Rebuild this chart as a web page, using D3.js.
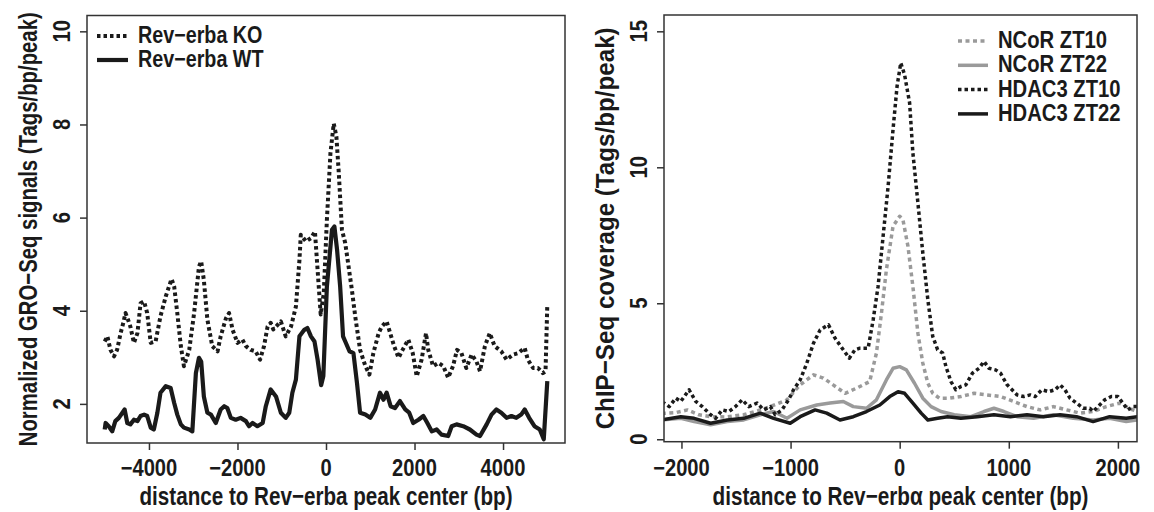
<!DOCTYPE html>
<html>
<head>
<meta charset="UTF-8" />
<title>GRO-Seq / ChIP-Seq profiles</title>
<script src="https://d3js.org/d3.v7.min.js"></script>
<style>
  body { margin: 0; background: #fff; }
  text { font-family: "Liberation Sans", Arial, sans-serif; font-weight: bold; fill: #1a1a1a; }
</style>
</head>
<body>
<div id="chart"></div>
<script>
// ---- left panel data: [bp, signal] ----
var koData = [
  [-5000,3.34],[-4940,3.45],[-4870,3.16],[-4790,3.02],[-4720,3.16],[-4640,3.52],[-4580,3.74],[-4530,3.95],
  [-4470,3.8],[-4420,3.66],[-4340,3.31],[-4260,3.52],[-4190,4.16],[-4110,4.2],[-4040,3.95],[-3960,3.31],
  [-3850,3.34],[-3740,3.88],[-3620,4.31],[-3490,4.68],[-3430,4.52],[-3360,3.95],[-3280,3.24],[-3210,2.81],
  [-3090,3.16],[-2980,3.95],[-2870,4.95],[-2820,5.06],[-2760,4.66],[-2680,3.81],[-2570,3.24],[-2450,3.13],
  [-2380,3.45],[-2260,3.84],[-2190,3.95],[-2110,3.59],[-2000,3.31],[-1890,3.38],[-1810,3.24],[-1700,3.16],
  [-1590,3.13],[-1490,2.95],[-1400,3.24],[-1320,3.66],[-1250,3.74],[-1190,3.6],[-1130,3.66],[-1020,3.77],
  [-910,3.45],[-790,3.66],[-680,4.09],[-600,5.09],[-570,5.63],[-450,5.49],[-340,5.56],[-250,5.7],
  [-190,4.88],[-120,3.92],[-50,4.38],[20,5.95],[100,7.38],[175,8.02],[235,7.74],[285,7.02],
  [360,5.74],[435,5.45],[510,4.95],[585,4.45],[660,3.88],[770,3.16],[890,2.81],[980,2.63],
  [1070,3.09],[1190,3.52],[1260,3.66],[1370,3.77],[1450,3.52],[1540,3.24],[1640,2.99],[1730,3.16],
  [1860,3.38],[1960,3.09],[2050,2.59],[2160,2.95],[2260,3.52],[2310,3.16],[2420,2.81],[2540,2.88],
  [2650,2.81],[2760,2.56],[2870,2.81],[2960,3.16],[3060,3.09],[3170,2.77],[3290,3.06],[3400,2.91],
  [3480,2.7],[3590,3.24],[3700,3.52],[3810,3.24],[3960,3.13],[4080,2.95],[4230,3.06],[4340,3.09],
  [4490,3.2],[4560,2.95],[4680,2.77],[4790,2.77],[4900,2.66],[4960,2.7],[5000,4.13]
];
var wtData = [
  [-5000,1.45],[-4980,1.59],[-4910,1.52],[-4830,1.41],[-4760,1.63],[-4680,1.7],[-4600,1.81],[-4550,1.88],
  [-4490,1.59],[-4420,1.56],[-4340,1.66],[-4260,1.63],[-4190,1.74],[-4110,1.77],[-4040,1.74],[-3960,1.49],
  [-3890,1.45],[-3810,1.81],[-3740,2.24],[-3620,2.38],[-3510,2.34],[-3430,2.02],[-3360,1.77],[-3280,1.56],
  [-3210,1.49],[-3090,1.45],[-3020,1.41],[-2940,2.66],[-2870,2.99],[-2820,2.91],[-2760,2.16],[-2680,1.81],
  [-2600,1.77],[-2490,1.59],[-2380,1.88],[-2300,1.95],[-2230,1.91],[-2150,1.7],[-2040,1.66],[-1930,1.7],
  [-1810,1.63],[-1740,1.52],[-1660,1.59],[-1550,1.52],[-1430,1.59],[-1360,1.95],[-1250,2.31],[-1130,2.16],
  [-1020,1.81],[-910,1.7],[-830,1.81],[-760,2.24],[-680,2.52],[-600,3.45],[-490,3.59],[-420,3.63],
  [-340,3.45],[-260,3.34],[-190,2.95],[-110,2.4],[-60,2.6],[20,4.52],[135,5.74],[190,5.81],
  [250,5.31],[320,4.52],[385,3.45],[435,3.34],[530,3.13],[620,3.09],[700,2.45],[770,1.81],
  [890,1.77],[1000,1.7],[1110,1.88],[1220,2.24],[1300,2.09],[1370,2.24],[1460,1.95],[1560,1.91],
  [1670,2.06],[1790,1.88],[1880,1.81],[1970,1.59],[2090,1.66],[2200,1.74],[2290,1.59],[2390,1.41],
  [2500,1.45],[2610,1.34],[2760,1.31],[2840,1.52],[2950,1.56],[3100,1.52],[3250,1.45],[3400,1.34],
  [3480,1.31],[3630,1.56],[3740,1.77],[3850,1.88],[3960,1.81],[4080,1.7],[4190,1.74],[4300,1.7],
  [4410,1.77],[4490,1.88],[4590,1.7],[4710,1.52],[4830,1.45],[4920,1.24],[5000,2.49]
];

// ---- right panel data: [bp, coverage] ----
var ncorZT10 = [
  [-2180,0.95],[-2050,0.98],[-1945,1.08],[-1840,0.9],[-1733,0.83],[-1600,0.82],[-1430,0.9],[-1300,1.05],
  [-1185,1.2],[-1033,1.45],[-912,2.0],[-790,2.37],[-700,2.25],[-610,2.0],[-500,1.69],[-395,1.88],
  [-275,2.12],[-213,3.17],[-167,4.64],[-122,6.23],[-61,7.83],[0,8.2],[30,8.07],[76,7.09],
  [121,5.62],[167,3.9],[212,2.8],[258,2.06],[303,1.69],[364,1.51],[455,1.51],[561,1.57],
  [682,1.69],[803,1.63],[924,1.57],[1045,1.39],[1167,1.2],[1288,1.08],[1409,1.2],[1530,1.08],
  [1652,0.96],[1773,1.02],[1894,1.2],[2015,1.33],[2136,1.08],[2182,1.02]
];
var ncorZT22 = [
  [-2180,0.71],[-2006,0.77],[-1884,0.65],[-1733,0.53],[-1580,0.65],[-1430,0.71],[-1277,0.9],[-1155,1.02],
  [-1033,0.77],[-912,1.08],[-760,1.26],[-638,1.33],[-517,1.39],[-425,1.2],[-304,1.14],[-213,1.45],
  [-122,2.18],[-61,2.61],[0,2.67],[61,2.55],[136,2.06],[212,1.51],[288,1.2],[379,1.02],
  [500,0.9],[652,0.83],[773,1.02],[864,1.14],[955,1.02],[1076,0.83],[1227,0.77],[1409,0.9],
  [1591,0.77],[1773,0.71],[1924,0.77],[2076,0.65],[2182,0.71]
];
var hdacZT10 = [
  [-2180,1.35],[-2158,1.33],[-2112,1.2],[-2052,1.51],[-2006,1.39],[-1930,1.82],[-1869,1.39],[-1809,1.2],
  [-1733,0.9],[-1687,0.77],[-1626,1.08],[-1565,1.02],[-1505,1.2],[-1444,1.45],[-1383,1.2],[-1307,1.33],
  [-1246,1.08],[-1185,1.2],[-1140,0.9],[-1079,1.08],[-1018,1.45],[-973,1.82],[-912,2.18],[-851,2.8],
  [-790,3.53],[-729,4.02],[-653,4.21],[-593,3.72],[-517,3.29],[-462,2.98],[-410,3.29],[-365,3.35],
  [-289,3.35],[-243,4.39],[-198,5.62],[-152,7.46],[-106,9.3],[-61,11.39],[-24,12.98],[10,13.84],
  [45,13.4],[91,12.37],[121,10.53],[167,8.69],[212,6.85],[258,5.13],[303,3.78],[348,3.29],
  [394,3.17],[424,2.67],[470,2.12],[515,1.82],[561,1.94],[606,2.0],[667,2.43],[727,2.61],
  [773,2.86],[818,2.61],[879,2.55],[924,2.43],[985,2.0],[1030,1.82],[1076,1.63],[1136,1.57],
  [1197,1.63],[1242,1.57],[1303,1.82],[1364,1.75],[1424,1.82],[1470,2.0],[1515,1.82],[1561,1.51],
  [1621,1.33],[1682,1.14],[1742,1.14],[1773,1.02],[1818,1.2],[1879,1.45],[1939,1.57],[2000,1.57],
  [2045,1.33],[2091,1.08],[2136,1.2],[2182,1.2]
];
var hdacZT22 = [
  [-2180,0.71],[-2006,0.83],[-1884,0.77],[-1733,0.59],[-1580,0.71],[-1430,0.77],[-1277,0.96],[-1155,0.77],
  [-1003,0.59],[-912,0.83],[-775,1.08],[-669,0.96],[-547,0.71],[-425,0.83],[-304,1.02],[-182,1.26],
  [-91,1.57],[-15,1.75],[15,1.72],[45,1.69],[121,1.33],[197,0.96],[258,0.71],[348,0.77],
  [439,0.83],[561,0.77],[712,0.83],[864,0.9],[1015,0.83],[1167,0.9],[1318,0.83],[1470,0.9],
  [1621,0.83],[1773,0.65],[1924,0.83],[2076,0.77],[2182,0.83]
];

// tick values
var leftXTicks = [-4000, -2000, 0, 2000, 4000];
var leftYTicks = [2, 4, 6, 8, 10];
var rightXTicks = [-2000, -1000, 0, 1000, 2000];
var rightYTicks = [0, 5, 10, 15];

var width = 1154, height = 512;
var ink = "#1a1a1a", grey = "#9a9a9a";

var svg = d3.select("#chart").append("svg")
  .attr("width", width).attr("height", height);

// text helper: horizontally condensed bold labels
function label(x, y, txt, size, sx, rot, len) {
  var g = svg.append("g")
    .attr("transform", "translate(" + x + "," + y + ") rotate(" + (rot || 0) + ") scale(" + sx + ",1)");
  var t = g.append("text").attr("text-anchor", "middle").attr("font-size", size).text(txt);
  if (len) t.attr("textLength", len / sx).attr("lengthAdjust", "spacingAndGlyphs");
  return t;
}
function fmt(v) { return v < 0 ? "\u2212" + Math.abs(v) : String(v); }

function panel(opt) {
  var x = d3.scaleLinear().domain(opt.xDomain).range([opt.left, opt.right]);
  var y = d3.scaleLinear().domain(opt.yDomain).range([opt.bottom, opt.top]);

  var clipId = "clip" + opt.id;
  svg.append("clipPath").attr("id", clipId).append("rect")
    .attr("x", opt.left).attr("y", opt.top)
    .attr("width", opt.right - opt.left).attr("height", opt.bottom - opt.top);

  var line = d3.line().x(d => x(d[0])).y(d => y(d[1]));
  var plot = svg.append("g").attr("clip-path", "url(#" + clipId + ")");
  opt.series.forEach(function (s) {
    plot.append("path").datum(s.data)
      .attr("d", line)
      .attr("fill", "none")
      .attr("stroke", s.color)
      .attr("stroke-width", s.width)
      .attr("stroke-linejoin", "round")
      .attr("stroke-dasharray", s.dash || null);
  });

  // box
  svg.append("rect")
    .attr("x", opt.left).attr("y", opt.top)
    .attr("width", opt.right - opt.left).attr("height", opt.bottom - opt.top)
    .attr("fill", "none").attr("stroke", "#333").attr("stroke-width", 1.5);

  // axes
  var xAxis = svg.append("g").attr("transform", "translate(0," + opt.bottom + ")")
    .call(d3.axisBottom(x).tickValues(opt.xTicks).tickSize(7).tickFormat(""));
  var yAxis = svg.append("g").attr("transform", "translate(" + opt.left + ",0)")
    .call(d3.axisLeft(y).tickValues(opt.yTicks).tickSize(7).tickFormat(""));
  [xAxis, yAxis].forEach(function (a) {
    a.select(".domain").remove();
    a.selectAll("line").attr("stroke", "#333").attr("stroke-width", 1.5);
  });

  opt.xTicks.forEach(v => label(x(v), 476, fmt(v), 24, 0.84));
  opt.yTicks.forEach(v => label(opt.yLabelX, y(v), fmt(v), 24, 0.84, -90));

  label((opt.left + opt.right) / 2, 505, opt.xTitle, 26, 1, 0, opt.xTitleLen);
  label(opt.yTitleX, (opt.top + opt.bottom) / 2, opt.yTitle, 26, 1, -90, opt.yTitleLen);

  // legend
  opt.series.forEach(function (s, i) {
    var by = opt.legend.y0 + i * opt.legend.dy;
    svg.append("line")
      .attr("x1", opt.legend.x1).attr("x2", opt.legend.x2)
      .attr("y1", by - 7).attr("y2", by - 7)
      .attr("stroke", s.color).attr("stroke-width", s.width)
      .attr("stroke-dasharray", s.dash || null);
    label(opt.legend.tx, by, s.name, opt.legend.size, opt.legend.sx)
      .attr("text-anchor", "start");
  });
}

panel({
  id: "L",
  left: 87, right: 565, top: 15.5, bottom: 443,
  xDomain: [-5400, 5400], yDomain: [1.16, 10.34],
  xTicks: leftXTicks, yTicks: leftYTicks, yLabelX: 70,
  xTitle: "distance to Rev\u2212erba peak center (bp)", xTitleLen: 373,
  yTitle: "Normalized GRO\u2212Seq signals (Tags/bp/peak)", yTitleX: 37, yTitleLen: 434,
  legend: { x1: 97, x2: 128, tx: 138, y0: 43, dy: 24, size: 23.5, sx: 0.84 },
  series: [
    { name: "Rev\u2212erba KO", data: koData, color: ink, width: 4, dash: "3.5 3" },
    { name: "Rev\u2212erba WT", data: wtData, color: ink, width: 4.2 }
  ]
});

panel({
  id: "R",
  left: 664, right: 1137, top: 15, bottom: 441.7,
  xDomain: [-2160, 2175], yDomain: [-0.09, 15.6],
  xTicks: rightXTicks, yTicks: rightYTicks, yLabelX: 647,
  xTitle: "distance to Rev\u2212erb\u03b1 peak center (bp)", xTitleLen: 376,
  yTitle: "ChIP\u2212Seq coverage (Tags/bp/peak)", yTitleX: 614, yTitleLen: 402,
  legend: { x1: 958, x2: 988, tx: 998, y0: 48, dy: 24.3, size: 23, sx: 0.88 },
  series: [
    { name: "NCoR ZT10", data: ncorZT10, color: grey, width: 3.5, dash: "4 3.5" },
    { name: "NCoR ZT22", data: ncorZT22, color: grey, width: 3.5 },
    { name: "HDAC3 ZT10", data: hdacZT10, color: ink, width: 3.5, dash: "3.5 3" },
    { name: "HDAC3 ZT22", data: hdacZT22, color: ink, width: 3.5 }
  ]
});
</script>
</body>
</html>
